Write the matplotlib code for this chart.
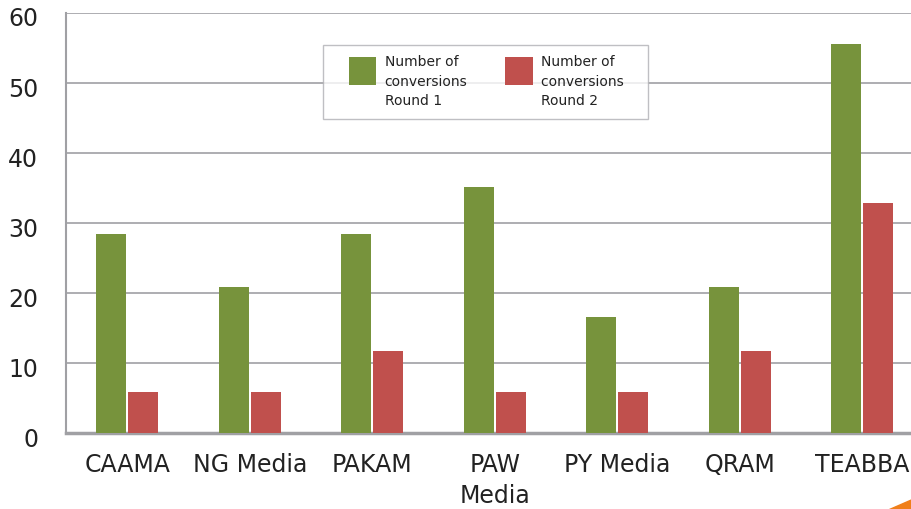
import matplotlib.pyplot as plt
import matplotlib.transforms as mtransforms
import numpy as np
from matplotlib.patches import Polygon, Rectangle
from matplotlib.container import BarContainer
from matplotlib.legend_handler import HandlerPatch, update_from_first_child

media = ['CAAMA', 'NG Media', 'PAKAM', 'PAW', 'PY Media', 'QRAM', 'TEABBA']
round_1 = [28.5, 20.8, 28.5, 35.1, 16.6, 20.8, 55.5]
round_2 = [5.9, 5.9, 11.7, 5.9, 5.9, 11.8, 32.9]
y_ticks = [0, 10, 20, 30, 40, 50, 60]
labels = ['Number of\nconversions\nRound 1', 'Number of\nconversions   \nRound 2']

green = '#77933C'
red = '#C0504D'
grey = '#A0A0A4'
text_col = '#222222'

plt.rcParams['font.family'] = ['DejaVu Sans']

fig = plt.figure(figsize=(9.12, 5.09), dpi=100)
ax = fig.add_axes([0.0724, 0.149, 0.94, 0.8255])

x = np.arange(len(media))
width = 0.245
ax.bar(x - 0.13, round_1, width, color=green, label=labels[0], zorder=3)
ax.bar(x + 0.13, round_2, width, color=red, label=labels[1], zorder=3)

ax.set_xlim(-0.5, 6.5)
ax.set_ylim(0, 60)
ax.set_yticks(y_ticks)
ax.set_xticks(x)
ax.set_xticklabels(media)
ax.tick_params(axis='both', length=0, labelsize=17, colors=text_col)
ax.tick_params(axis='y', pad=20)
ax.tick_params(axis='x', pad=14)

# y labels sit a little below their gridlines in the original
shift = mtransforms.ScaledTranslation(0, -4 / 100, fig.dpi_scale_trans)
for lbl in ax.get_yticklabels():
    lbl.set_transform(lbl.get_transform() + shift)

ax.yaxis.grid(True, color=grey, linewidth=1.2, zorder=0)
ax.spines['top'].set_visible(False)
ax.spines['right'].set_visible(False)
ax.spines['left'].set_color(grey)
ax.spines['left'].set_linewidth(1.5)
ax.spines['bottom'].set_color(grey)
ax.spines['bottom'].set_linewidth(2.5)

ax.set_xlabel('Media', fontsize=17, color=text_col, labelpad=5)


# square swatch at the top-right of a wider handle box
def top_square(legend, orig_handle, xdescent, ydescent, width, height, fontsize):
    side = 2.0 * fontsize
    return Rectangle((-xdescent + width - side, -ydescent + height - side + 5), side, side)


square = HandlerPatch(patch_func=top_square, update_func=update_from_first_child)
leg = fig.legend(loc='upper left', bbox_to_anchor=(323 / 912, 1 - 45 / 509), ncol=2,
                 fontsize=10, frameon=True, fancybox=False, handlelength=3.1,
                 handleheight=3.9, handletextpad=0.58, columnspacing=1.65,
                 borderpad=0.75, borderaxespad=0,
                 handler_map={BarContainer: square})
leg.get_frame().set_edgecolor('#B0B0B4')
leg.get_frame().set_linewidth(1.0)
for t in leg.get_texts():
    t.set_linespacing(1.5)
    t.set_color(text_col)

# small orange corner mark at bottom right
fig.patches.append(Polygon([[0.975, 0.0], [1.0, 0.0], [1.0, 0.02]], closed=True,
                           transform=fig.transFigure, color='#F07F1A'))

fig.savefig('out.png', dpi=100)
